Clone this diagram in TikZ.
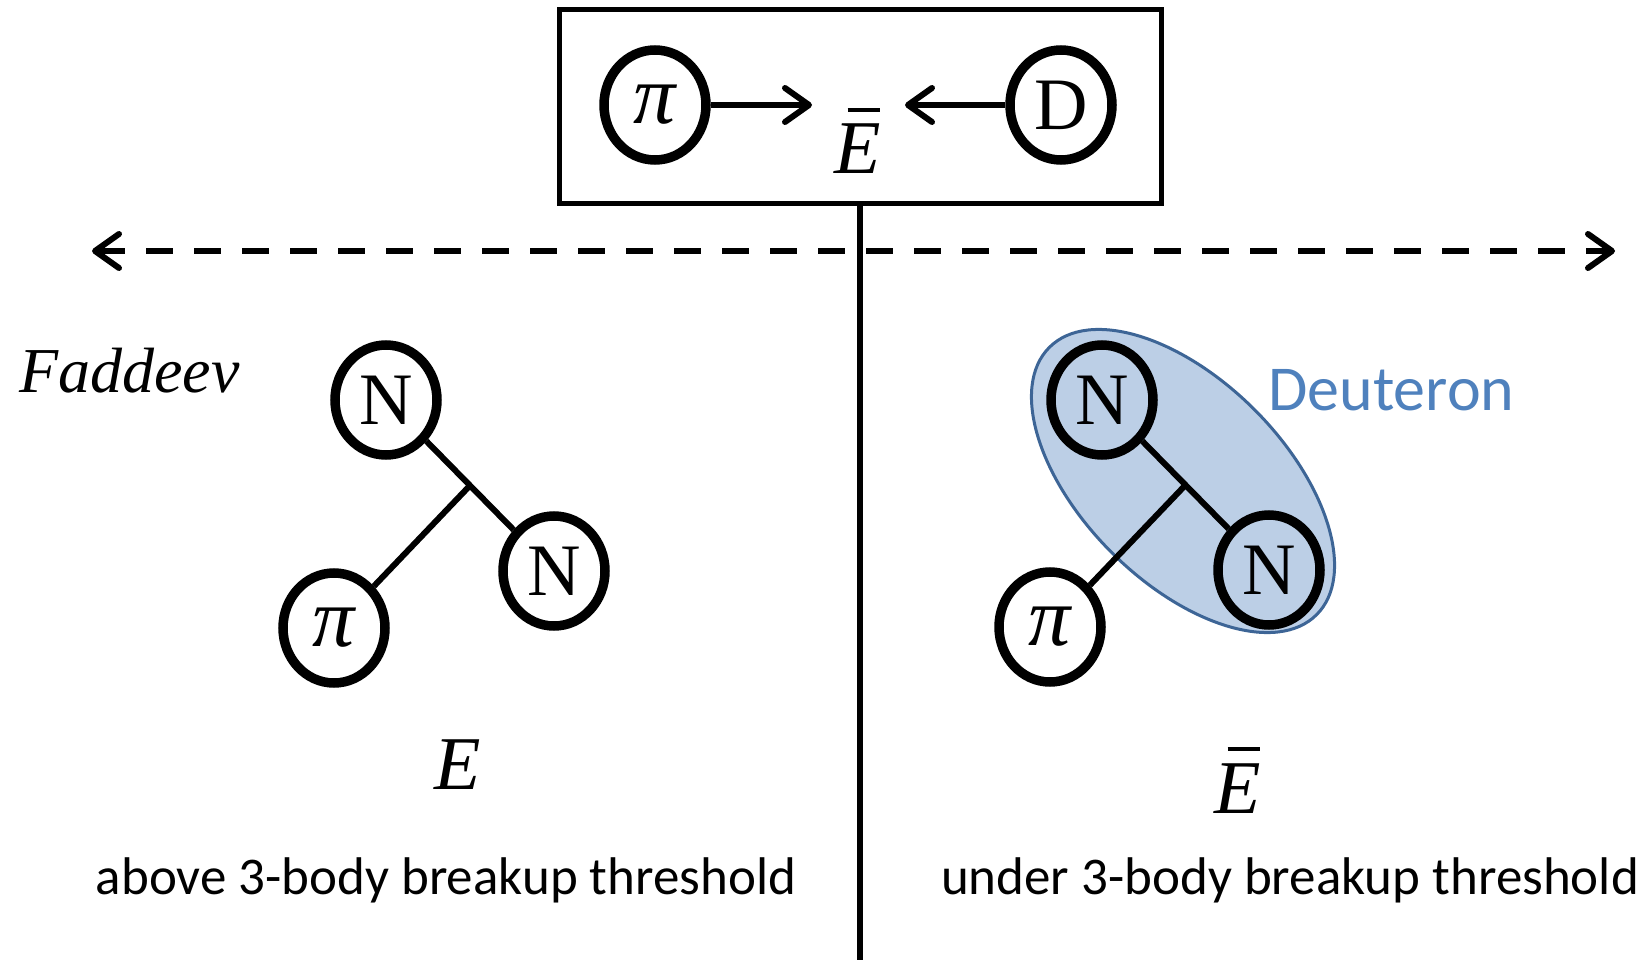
\documentclass[tikz,border=0pt]{standalone}
\usepackage{fontspec}
\setmainfont{Liberation Serif}
\newfontfamily\carlito{Carlito}
\usetikzlibrary{arrows.meta,shapes.geometric,calc}
\definecolor{deutfill}{HTML}{BCCFE6}
\definecolor{deutline}{HTML}{3D6596}
\definecolor{deuttext}{HTML}{4F81BD}
% italic E with a raised bar
\newcommand\barredE{\leavevmode\rlap{\hspace{0.17em}\raisebox{0.82em}{\rule{0.42em}{0.05em}}}E}
\begin{document}
\begin{tikzpicture}[x=1pt,y=-1pt,
  particle/.style={draw, ellipse, line width=9.5pt, minimum width=102pt,
    minimum height=110pt, inner sep=0pt, font=\fontsize{74}{74}\selectfont},
  pion/.style={font=\fontsize{84}{84}\selectfont\itshape},
  bond/.style={line width=6pt},
  barb/.style={line width=6pt, -{Straight Barb[length=24pt,width=34pt,round]}},
  energy/.style={anchor=base, inner sep=0pt, font=\fontsize{76}{76}\selectfont\itshape},
  caption/.style={anchor=base, inner sep=0pt, font=\carlito\fontsize{53}{53}\selectfont},
]
\useasboundingbox (0,0) rectangle (1650,960);

% top box: pion and deuteron at energy E-bar
\node[draw, line width=5pt, minimum width=602pt, minimum height=194pt, inner sep=0pt]
  (box) at (860,107) {};
\node[particle, pion] (piT) at (655,105) {π};
\node[particle] (dT) at (1061,105) {D};
\node[energy] (eT) at (858,174) {\barredE};
\coordinate (tipA) at (812,105);
\coordinate (tipB) at (905,105);
\draw[barb] (piT) -- (tipA);
\draw[barb] (dT) -- (tipB);

% dividing lines
\coordinate (vb) at (860,960);
\draw[line width=6pt] (box.south) -- (vb);
\coordinate (dl) at (92,251);
\coordinate (dr) at (1615,251);
\draw[line width=6pt, dash pattern=on 27pt off 21pt,
  {Straight Barb[length=24pt,width=34pt,round]}-{Straight Barb[length=24pt,width=34pt,round]}]
  (dl) -- (dr);

\node[anchor=base west, inner sep=0pt, font=\fontsize{64}{64}\selectfont\itshape]
  (fad) at (19,392) {Faddeev};

% left: three-body system above breakup
\node[particle] (nL1) at (386,400) {N};
\node[particle] (nL2) at (554,571) {N};
\node[particle, pion, fill=white] (piL) at (334,628) {π};
\coordinate (jL) at ($(nL1)!0.5!(nL2)$);
\draw[bond] (nL1) -- (nL2);
\draw[bond] (piL) -- (jL);
\node[energy] (eL) at (458,789) {E};
\node[caption] (capL) at (446,894) {above 3-body breakup threshold};

% right: pion + deuteron below breakup
\node[draw=deutline, fill=deutfill, line width=3pt, ellipse, inner sep=0pt,
  minimum width=378pt, minimum height=202pt, rotate=-45] (deut) at (1183,481) {};
\node[particle] (nR1) at (1102,400) {N};
\node[particle] (nR2) at (1269,570) {N};
\node[particle, pion, fill=white] (piR) at (1050,627) {π};
\coordinate (jR) at ($(nR1)!0.5!(nR2)$);
\draw[bond] (nR1) -- (nR2);
\draw[bond] (piR) -- (jR);
\node[anchor=base west, inner sep=0pt, text=deuttext,
  font=\carlito\fontsize{64}{64}\selectfont] (deutlab) at (1268,410) {Deuteron};
\node[energy] (eR) at (1238,813) {\barredE};
\node[caption] (capR) at (1290,894) {under 3-body breakup threshold};
\end{tikzpicture}
\end{document}
